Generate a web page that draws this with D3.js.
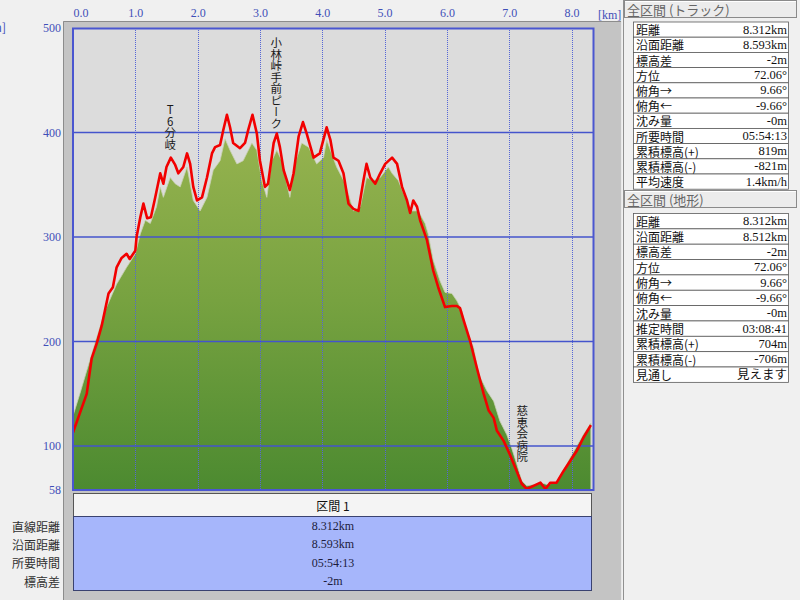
<!DOCTYPE html>
<html><head><meta charset="utf-8">
<script src="https://cdn.jsdelivr.net/npm/d3@7"></script>
<style>
body{margin:0;background:#f0f0f0;}
svg{display:block;font-family:"Noto Sans CJK JP","Noto Sans",sans-serif;}
</style></head>
<body><svg id="c" width="800" height="600"></svg>
<script>
// ---- data ----
const trackDist = [0.00,0.22,0.30,0.38,0.46,0.51,0.57,0.64,0.70,0.78,0.86,0.91,1.00,1.02,1.08,1.13,1.19,1.25,1.32,1.40,1.45,1.50,1.57,1.64,1.69,1.77,1.83,1.88,1.93,1.99,2.07,2.15,2.23,2.28,2.36,2.41,2.47,2.52,2.57,2.68,2.76,2.81,2.88,2.95,3.00,3.08,3.13,3.22,3.27,3.32,3.38,3.48,3.54,3.62,3.69,3.75,3.86,3.96,4.07,4.13,4.18,4.26,4.34,4.42,4.50,4.58,4.66,4.71,4.77,4.85,4.93,5.01,5.12,5.20,5.28,5.36,5.41,5.46,5.52,5.57,5.68,5.78,5.86,5.97,6.08,6.16,6.21,6.27,6.37,6.48,6.59,6.67,6.75,6.80,6.91,7.01,7.12,7.20,7.28,7.39,7.50,7.58,7.66,7.76,7.87,7.98,8.08,8.19,8.31];
const trackElev = [113,150,184,198,215,229,246,252,271,280,284,279,287,300,319,332,318,319,338,361,351,367,376,369,361,367,380,370,348,335,338,357,380,386,388,402,417,405,390,385,390,402,417,399,373,348,351,390,399,386,364,345,361,396,410,399,376,380,405,393,376,373,361,332,327,325,354,370,357,351,361,370,376,370,348,335,323,335,329,316,297,268,252,233,234,234,232,220,201,175,150,134,127,115,105,92,76,64,59,62,65,59,65,65,76,86,95,108,120];
const terrainDist = [0.00,0.11,0.33,0.51,0.54,0.70,0.86,1.00,1.08,1.16,1.24,1.34,1.40,1.45,1.56,1.64,1.72,1.83,1.93,2.04,2.15,2.25,2.36,2.44,2.52,2.63,2.73,2.87,2.95,3.03,3.11,3.19,3.27,3.35,3.48,3.56,3.67,3.78,3.91,4.02,4.07,4.23,4.37,4.50,4.61,4.71,4.82,4.93,5.06,5.12,5.22,5.33,5.44,5.54,5.65,5.70,5.78,5.89,5.97,6.08,6.16,6.24,6.32,6.43,6.51,6.64,6.75,6.85,6.96,7.04,7.12,7.20,7.28,7.38,7.50,7.62,7.76,7.87,7.98,8.19,8.31];
const terrainElev = [129,150,194,229,233,255,271,284,303,316,313,329,348,338,357,351,348,367,335,325,338,364,373,394,383,370,373,390,383,354,338,373,383,373,338,370,390,386,370,376,393,367,351,325,329,357,354,357,367,361,354,338,325,325,313,303,278,258,247,246,239,230,210,194,169,153,143,124,111,98,83,67,62,63,65,63,66,77,89,111,122];
const xTicks = [0,1,2,3,4,5,6,7,8];
const xTickLabels = ["0.0","1.0","2.0","3.0","4.0","5.0","6.0","7.0","8.0"];
const yTicks = [58,100,200,300,400,500];
const yGrid = [100,200,300,400];
const annoText = ["T6分岐","小林峠手前ピーク","慈恵会病院"];
const annoDist = [1.56,3.26,7.21];
const annoTop = [104,37,405];
const sectionTitle = "区間 1";
const sectionLabels = ["直線距離","沿面距離","所要時間","標高差"];
const sectionValues = ["8.312km","8.593km","05:54:13","-2m"];
const trackHeader = "全区間 (トラック)";
const trackLabels = ["距離","沿面距離","標高差","方位","俯角→","俯角←","沈み量","所要時間","累積標高(+)","累積標高(-)","平均速度"];
const trackValues = ["8.312km","8.593km","-2m","72.06°","9.66°","-9.66°","-0m","05:54:13","819m","-821m","1.4km/h"];
const terrainHeader = "全区間 (地形)";
const terrainLabels = ["距離","沿面距離","標高差","方位","俯角→","俯角←","沈み量","推定時間","累積標高(+)","累積標高(-)","見通し"];
const terrainValues = ["8.312km","8.512km","-2m","72.06°","9.66°","-9.66°","-0m","03:08:41","704m","-706m","見えます"];

const track = trackDist.map((d,i)=>({d, e:trackElev[i]}));
const terrain = terrainDist.map((d,i)=>({d, e:terrainElev[i]}));

const svg = d3.select("#c");
const axisColor = "#3f4fb8";
const x = d3.scaleLinear().domain([0,8.312]).range([73,591]);
const y = d3.scaleLinear().domain([58,500]).range([490,28]);

// background panels
svg.append("rect").attr("x",0).attr("y",0).attr("width",800).attr("height",600).attr("fill","#f0f0f0");
svg.append("rect").attr("x",63).attr("y",21).attr("width",558).attr("height",580).attr("fill","#c4c4c4");
svg.append("path").attr("d","M63.5,600 V21.5 H621").attr("stroke","#8c8c8c").attr("fill","none");
svg.append("line").attr("x1",621.5).attr("x2",621.5).attr("y1",21).attr("y2",600).attr("stroke","#e8e8e8");
svg.append("line").attr("x1",623.5).attr("x2",623.5).attr("y1",0).attr("y2",600).attr("stroke","#909090");

// plot area
svg.append("rect").attr("x",73).attr("y",28).attr("width",521).attr("height",462).attr("fill","#dcdcdc");

const defs = svg.append("defs");
const grad = defs.append("linearGradient").attr("id","g").attr("gradientUnits","userSpaceOnUse")
  .attr("x1",0).attr("y1",y(420)).attr("x2",0).attr("y2",y(58));
grad.append("stop").attr("offset",0).attr("stop-color","#9ab551");
grad.append("stop").attr("offset",0.5).attr("stop-color","#77a240");
grad.append("stop").attr("offset",1).attr("stop-color","#4c8a30");
defs.append("clipPath").attr("id","clip").append("rect").attr("x",73).attr("y",28).attr("width",521).attr("height",462);

const area = d3.area().x(p=>x(p.d)).y0(y(58)).y1(p=>y(p.e));
svg.append("path").datum(terrain).attr("d",area).attr("fill","url(#g)").attr("stroke","#c9d2b4").attr("stroke-width",0.8).attr("clip-path","url(#clip)");

// grid
const gridG = svg.append("g");
gridG.selectAll("line.v").data(xTicks.slice(1)).join("line")
  .attr("x1",d=>Math.round(x(d))+0.5).attr("x2",d=>Math.round(x(d))+0.5).attr("y1",28).attr("y2",490)
  .attr("stroke","#5566d6").attr("stroke-width",1).attr("stroke-dasharray","1,1");
gridG.selectAll("line.h").data(yGrid).join("line")
  .attr("x1",73).attr("x2",594).attr("y1",d=>y(d)).attr("y2",d=>y(d))
  .attr("stroke","#4454cc").attr("stroke-width",1.5);

// track line
const line = d3.line().x(p=>x(p.d)).y(p=>y(p.e));
svg.append("path").datum(track).attr("d",line).attr("fill","none").attr("stroke","#f20000").attr("stroke-width",2.6).attr("stroke-linejoin","round").attr("clip-path","url(#clip)");

// plot border
svg.append("rect").attr("x",73).attr("y",28.5).attr("width",520.5).attr("height",461.5).attr("fill","none").attr("stroke","#4a56d0").attr("stroke-width",2);

// annotations (vertical)
annoText.forEach((t,i)=>{
  svg.append("text").attr("x",x(annoDist[i])).attr("y",annoTop[i])
    .style("writing-mode","vertical-rl").style("text-orientation","upright")
    .attr("font-size",11.5).attr("fill","#1a1a1a").text(t);
});

// x axis labels on top
const xAxis = d3.axisTop(x).tickValues(xTicks).tickSize(0).tickFormat((d,i)=>xTickLabels[i]);
const gx = svg.append("g").attr("transform","translate(0,20)").call(xAxis);
gx.select(".domain").remove();
gx.selectAll("text").attr("fill",axisColor).attr("font-size",12).attr("dy",0)
  .attr("font-family","'Liberation Serif',serif");
gx.selectAll(".tick").filter(d=>d===0).select("text").attr("text-anchor","start");
svg.append("text").attr("x",598).attr("y",19).attr("fill",axisColor).attr("font-size",12)
  .attr("font-family","'Liberation Serif',serif").text("[km]");

// y axis labels on left
const yAxis = d3.axisLeft(y).tickValues(yTicks).tickSize(0).tickFormat(d3.format("d"));
const gy = svg.append("g").attr("transform","translate(61,0)").call(yAxis);
gy.select(".domain").remove();
gy.selectAll("text").attr("fill",axisColor).attr("font-size",12).attr("x",0)
  .attr("font-family","'Liberation Serif',serif");
svg.append("text").attr("x",6).attr("y",32).attr("text-anchor","end").attr("fill",axisColor).attr("font-size",12).text("[m]");

// section table
svg.append("rect").attr("x",73.5).attr("y",493.5).attr("width",518).attr("height",23).attr("fill","#f4f4f4").attr("stroke","#555");
svg.append("text").attr("x",333).attr("y",505).attr("text-anchor","middle").attr("dominant-baseline","central").attr("font-size",12).attr("fill","#111").text(sectionTitle);
svg.append("rect").attr("x",73.5).attr("y",516.5).attr("width",518).attr("height",74).attr("fill","#a6b6fb").attr("stroke","#3a4270");
const rowY = d3.scaleLinear().domain([0,3]).range([526,581]);
sectionValues.forEach((v,i)=>{
  svg.append("text").attr("x",333).attr("y",rowY(i)).attr("text-anchor","middle").attr("dominant-baseline","central")
    .attr("font-size",12).attr("fill","#1c1c3c").attr("font-family","'Liberation Serif',serif").text(v);
});
sectionLabels.forEach((v,i)=>{
  svg.append("text").attr("x",60).attr("y",rowY(i)).attr("text-anchor","end").attr("dominant-baseline","central")
    .attr("font-size",12).attr("fill","#303030").text(v);
});

// right panel tables
function panel(header, labels, values, top, rowTop, rowH){
  svg.append("rect").attr("x",624.5).attr("y",top+0.5).attr("width",172).attr("height",17).attr("fill","#ececec").attr("stroke","#8a8a8a");
  svg.append("line").attr("x1",625).attr("x2",796).attr("y1",top+1.5).attr("y2",top+1.5).attr("stroke","#fff");
  svg.append("text").attr("x",627).attr("y",top+9.5).attr("dominant-baseline","central").attr("font-size",13).attr("fill","#666").text(header);
  labels.forEach((l,i)=>{
    const yy = rowTop + i*rowH;
    svg.append("rect").attr("x",633.5).attr("y",yy+0.5).attr("width",155).attr("height",rowH).attr("fill","#fff").attr("stroke","#5a5a5a").attr("stroke-width",0.8);
    svg.append("text").attr("x",636).attr("y",yy+rowH/2+0.5).attr("dominant-baseline","central").attr("font-size",12).attr("fill","#111").text(l);
    svg.append("text").attr("x",787).attr("y",yy+rowH/2+0.5).attr("text-anchor","end").attr("dominant-baseline","central")
      .attr("font-size",12.5).attr("fill","#111").attr("font-family","'Liberation Serif','Noto Sans CJK JP',serif").text(values[i]);
  });
}
panel(trackHeader, trackLabels, trackValues, 0, 21.5, 15.2);
panel(terrainHeader, terrainLabels, terrainValues, 190, 213, 15.35);
</script></body></html>
